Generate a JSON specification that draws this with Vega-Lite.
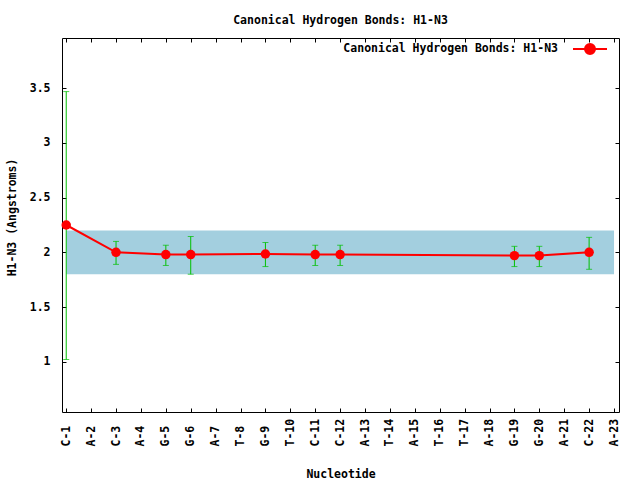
{
  "$schema": "https://vega.github.io/schema/vega-lite/v6.json",
  "width": 557,
  "height": 374,
  "autosize": {"type": "none"},
  "padding": {"left": 62, "top": 38, "right": 21, "bottom": 68},
  "background": "white",
  "config": {
    "view": {"stroke": "black", "strokeWidth": 1},
    "axis": {
      "labelFont": "DejaVu Sans Mono",
      "labelFontWeight": "bold",
      "labelFontSize": 11.5,
      "labelColor": "black",
      "titleFont": "DejaVu Sans Mono",
      "titleFontWeight": "bold",
      "titleFontSize": 11.5,
      "titleColor": "black",
      "tickColor": "black",
      "tickWidth": 1,
      "domain": false,
      "grid": false,
      "tickSize": -4
    },
    "legend": {
      "labelFont": "DejaVu Sans Mono",
      "labelFontWeight": "bold",
      "labelFontSize": 11.5,
      "labelColor": "black"
    }
  },
  "title": {
    "text": "Canonical Hydrogen Bonds: H1-N3",
    "font": "DejaVu Sans Mono",
    "fontWeight": "bold",
    "fontSize": 11.5,
    "color": "black",
    "anchor": "middle",
    "frame": "group",
    "offset": 5
  },
  "datasets": {
    "band": [{"x1": 1, "x2": 23, "lo": 1.8, "hi": 2.2}],
    "hb": [
      {"pos": 1, "nt": "C-1", "y": 2.25, "lo": 1.02, "hi": 3.47},
      {"pos": 3, "nt": "C-3", "y": 2.0, "lo": 1.89, "hi": 2.1},
      {"pos": 5, "nt": "G-5", "y": 1.98, "lo": 1.88, "hi": 2.065},
      {"pos": 6, "nt": "G-6", "y": 1.98, "lo": 1.8, "hi": 2.145},
      {"pos": 9, "nt": "G-9", "y": 1.985, "lo": 1.87, "hi": 2.09},
      {"pos": 11, "nt": "C-11", "y": 1.98, "lo": 1.88, "hi": 2.065},
      {"pos": 12, "nt": "C-12", "y": 1.98, "lo": 1.88, "hi": 2.065},
      {"pos": 19, "nt": "G-19", "y": 1.97, "lo": 1.87, "hi": 2.055},
      {"pos": 20, "nt": "G-20", "y": 1.97, "lo": 1.87, "hi": 2.055},
      {"pos": 22, "nt": "C-22", "y": 2.0, "lo": 1.845, "hi": 2.137}
    ]
  },
  "layer": [
    {
      "data": {"name": "band"},
      "mark": {"type": "rect", "color": "#a3cfdf"},
      "encoding": {
        "x": {"field": "x1", "type": "quantitative",
              "scale": {"domain": [0.83, 23.2], "nice": false, "zero": false},
              "axis": {"orient": "top", "values": [1,2,3,4,5,6,7,8,9,10,11,12,13,14,15,16,17,18,19,20,21,22,23], "labels": false, "title": null}},
        "x2": {"field": "x2"},
        "y": {"field": "lo", "type": "quantitative",
              "scale": {"domain": [0.54, 3.96], "nice": false, "zero": false},
              "axis": {"orient": "right", "values": [1, 1.5, 2, 2.5, 3, 3.5], "labels": false, "title": null}},
        "y2": {"field": "hi"}
      }
    },
    {
      "data": {"name": "hb"},
      "mark": {"type": "rule", "color": "#00c000", "strokeWidth": 1},
      "encoding": {
        "x": {"field": "pos", "type": "quantitative", "axis": null},
        "y": {"field": "lo", "type": "quantitative", "axis": null},
        "y2": {"field": "hi"}
      }
    },
    {
      "data": {"name": "hb"},
      "mark": {"type": "tick", "color": "#00c000", "orient": "horizontal", "size": 6, "thickness": 1},
      "encoding": {
        "x": {"field": "pos", "type": "quantitative", "axis": null},
        "y": {"field": "lo", "type": "quantitative", "axis": null}
      }
    },
    {
      "data": {"name": "hb"},
      "mark": {"type": "tick", "color": "#00c000", "orient": "horizontal", "size": 6, "thickness": 1},
      "encoding": {
        "x": {"field": "pos", "type": "quantitative", "axis": null},
        "y": {"field": "hi", "type": "quantitative", "axis": null}
      }
    },
    {
      "data": {"name": "hb"},
      "mark": {"type": "line", "strokeWidth": 2},
      "encoding": {
        "x": {"field": "pos", "type": "quantitative",
              "axis": {"orient": "bottom", "values": [1,2,3,4,5,6,7,8,9,10,11,12,13,14,15,16,17,18,19,20,21,22,23],
                       "labelExpr": "['C-1','A-2','C-3','A-4','G-5','G-6','A-7','T-8','G-9','T-10','C-11','C-12','A-13','T-14','A-15','T-16','T-17','A-18','G-19','G-20','A-21','C-22','A-23'][datum.value - 1]",
                       "labelAngle": 270, "labelAlign": "left", "labelBaseline": "middle", "labelPadding": 38,
                       "title": "Nucleotide", "titlePadding": 22}},
        "y": {"field": "y", "type": "quantitative",
              "axis": {"orient": "left", "values": [1, 1.5, 2, 2.5, 3, 3.5], "format": "~g", "labelPadding": 16,
                       "title": "H1-N3 (Angstroms)", "titlePadding": 12, "titleY": 179}},
        "color": {"datum": "Canonical Hydrogen Bonds: H1-N3", "type": "nominal",
                  "scale": {"range": ["#ff0000"]},
                  "legend": {"title": null, "orient": "none", "legendX": 510, "legendY": -7, "padding": 0,
                             "symbolType": "M-1,0H1M-0.294,0A0.294,0.294,0,1,1,0.294,0A0.294,0.294,0,1,1,-0.294,0Z",
                             "symbolSize": 1156, "symbolStrokeWidth": 2, "symbolFillColor": "#ff0000", "symbolStrokeColor": "#ff0000",
                             "labelAlign": "right", "labelOffset": -50, "labelLimit": 0}}
      }
    },
    {
      "data": {"name": "hb"},
      "mark": {"type": "point", "filled": true, "shape": "circle", "size": 90, "color": "#ff0000", "opacity": 1},
      "encoding": {
        "x": {"field": "pos", "type": "quantitative", "axis": null},
        "y": {"field": "y", "type": "quantitative", "axis": null}
      }
    }
  ],
  "resolve": {"axis": {"x": "independent", "y": "independent"}}
}
